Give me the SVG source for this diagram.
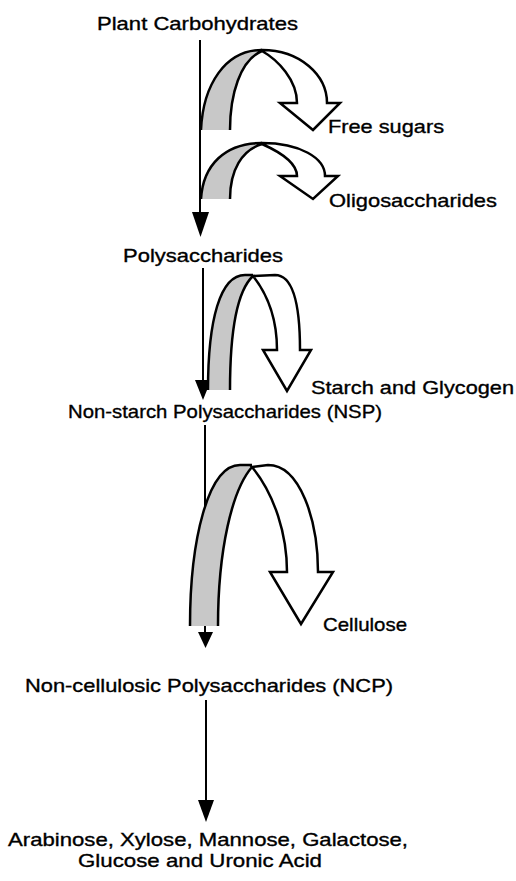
<svg xmlns="http://www.w3.org/2000/svg" width="516" height="881" viewBox="0 0 516 881">
<style>
text{font-family:"Liberation Sans",Arial,sans-serif;font-size:19px;fill:#000;stroke:#000;stroke-width:0.35}
.ln{stroke:#000;stroke-width:2;fill:none}
.hd{fill:#000;stroke:none}
.gr{fill:#c8c8c8;stroke:none}
.cv{fill:none;stroke:#000;stroke-width:2.5}
.wh{fill:#fff;stroke:#000;stroke-width:2.5;stroke-linejoin:miter}
</style>
<rect width="516" height="881" fill="#fff"/>
<g id="connectors">
<line class="ln" x1="200" y1="40" x2="200" y2="214"/>
<polygon class="hd" points="192,212 209,212 200.5,237"/>
<line class="ln" x1="203" y1="268" x2="203" y2="382"/>
<polygon class="hd" points="195,380 211,380 203,400"/>
<line class="ln" x1="205" y1="425" x2="205" y2="634"/>
<polygon class="hd" points="198,632 213,632 205.5,648"/>
<line class="ln" x1="206" y1="700" x2="206" y2="802"/>
<polygon class="hd" points="198,800 214,800 206,822"/>
<g id="arrow-free-sugars">
<path class="gr" d="M201,130 C203,85 225,50 262,50 C240,60 230,95 230,130 Z"/>
<path class="cv" d="M201,130 C203,85 225,50 262,50 M230,130 C230,95 240,60 262,51"/>
<path class="wh" d="M262,51 C278,60 297,80 297,103 L280,103 L313,130 L340,103 L327,103 C327,75 300,50 262,50 Z"/>
</g>
<g id="arrow-oligosaccharides">
<path class="gr" d="M201,199 C203,165 225,143 262,143 C242,150 230,170 230,199 Z"/>
<path class="cv" d="M201,199 C203,165 225,143 262,143 M230,199 C230,170 242,150 262,144"/>
<path class="wh" d="M262,144 C280,152 297,163 297,176 L280,176 L313,199 L338,176 L325,176 C325,158 300,143 262,143 Z"/>
</g>
<g id="arrow-starch">
<path class="gr" d="M208,390 C208,320 220,275 245,275 L253,275 C238,290 230,330 230,390 Z"/>
<path class="cv" d="M208,390 C208,320 220,275 245,275 L253,275 M230,390 C230,330 238,290 253,276"/>
<path class="wh" d="M253,276 C268,295 277,320 277,350 L263,350 L287,391 L311,350 L300,350 C300,310 295,275 275,275 Z"/>
</g>
<g id="arrow-cellulose">
<path class="gr" d="M190,626 C190,540 208,465 240,465 L252,465 C232,490 218,550 218,626 Z"/>
<path class="cv" d="M190,626 C190,540 208,465 240,465 L252,465 M218,626 C218,550 232,490 252,467"/>
<path class="wh" d="M252,467 C275,495 287,535 287,572 L270,572 L301,624 L333,572 L318,572 C318,520 300,465 268,465 Z"/>
</g>
</g>
<g id="plant-carbohydrates"><text x="97" y="30" textLength="201" lengthAdjust="spacingAndGlyphs">Plant Carbohydrates</text></g>
<g id="free-sugars"><text x="328" y="133" textLength="116" lengthAdjust="spacingAndGlyphs">Free sugars</text></g>
<g id="oligosaccharides"><text x="329" y="207" textLength="168" lengthAdjust="spacingAndGlyphs">Oligosaccharides</text></g>
<g id="polysaccharides"><text x="123" y="262" textLength="160" lengthAdjust="spacingAndGlyphs">Polysaccharides</text></g>
<g id="starch-glycogen"><text x="311" y="394" textLength="203" lengthAdjust="spacingAndGlyphs">Starch and Glycogen</text></g>
<g id="nsp"><text x="68" y="418" textLength="314" lengthAdjust="spacingAndGlyphs">Non-starch Polysaccharides (NSP)</text></g>
<g id="cellulose"><text x="323" y="631" textLength="84" lengthAdjust="spacingAndGlyphs">Cellulose</text></g>
<g id="ncp"><text x="25" y="692" textLength="368" lengthAdjust="spacingAndGlyphs">Non-cellulosic Polysaccharides (NCP)</text></g>
<g id="monosaccharides">
<text x="8" y="846" textLength="400" lengthAdjust="spacingAndGlyphs">Arabinose, Xylose, Mannose, Galactose,</text>
<text x="78" y="867" textLength="244" lengthAdjust="spacingAndGlyphs">Glucose and Uronic Acid</text>
</g>
</svg>
